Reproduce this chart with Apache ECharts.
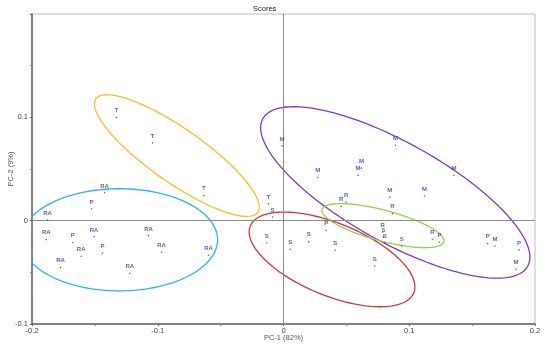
<!DOCTYPE html>
<html><head><meta charset="utf-8">
<script src="https://cdn.jsdelivr.net/npm/echarts@6/dist/echarts.min.js"></script>
<style>html,body{margin:0;padding:0;background:#fff}#c{width:550px;height:345px}</style>
</head><body><div id="c"></div>
<script>
// sample labels and PCA scores
const pointLabels = ['T','T','T','T',
  'RA','RA','RA','RA','RA','RA','RA','RA','RA','RA',
  'P','P','P','P','P','P','P',
  'S','S','S','S','S','S','S','S','S',
  'M','M','M','M','M','M','M','M','M','M',
  'R','R','R','R','R'];
const pc1 = [-0.1328,-0.1041,-0.0634,-0.0119,
  -0.1423,-0.1876,-0.1887,-0.1506,-0.1609,-0.1773,-0.1073,-0.0970,-0.1222,-0.0596,
  -0.1526,-0.1675,-0.1439,0.0339,0.1240,0.1624,0.1873,
  -0.0087,-0.0133,0.0053,0.0201,0.0411,0.0726,0.0795,0.0805,0.0940,
  -0.0011,0.0890,0.0620,0.0593,0.0273,0.1356,0.0845,0.1121,0.1682,0.1849,
  0.0458,0.0498,0.0866,0.0789,0.1184];
const pc2 = [0.1000,0.0753,0.0244,0.0164,
  0.0270,0.0006,-0.0183,-0.0155,-0.0345,-0.0454,-0.0145,-0.0306,-0.0509,-0.0335,
  0.0116,-0.0212,-0.0316,-0.0094,-0.0209,-0.0222,-0.0283,
  0.0035,-0.0216,-0.0277,-0.0203,-0.0287,-0.0438,-0.0158,-0.0216,-0.0245,
  0.0724,0.0730,0.0508,0.0440,0.0418,0.0440,0.0228,0.0238,-0.0245,-0.0470,
  0.0138,0.0180,0.0068,-0.0110,-0.0180];

// group ellipses: centre and two conjugate semi-axis vectors (data units)
const ellipseGroups = ['RA','T','M','S','R'];
const ellipseCx = [-0.1305,-0.0848,0.0889,0.0386,0.0791];
const ellipseCy = [-0.0185,0.0630,0.0273,-0.0375,-0.0048];
const ellipseAxisA = [[0.0781,0],[0.0644,-0.0549],[0.1053,-0.0715],[0.0650,-0.0324],[0.04855,-0.01568]];
const ellipseAxisB = [[0,0.0494],[-0.01234,-0.02132],[-0.0194,-0.0421],[-0.01095,-0.0324],[-0.00315,-0.01437]];
const ellipseColors = ['#29b4ef','#f7bd2a','#7d3fb4','#c9383d','#93d151'];

const xTicks = [-0.2,-0.1,0,0.1,0.2];

const scatterData = pointLabels.map((l,i)=>[pc1[i],pc2[i],l]);

const series = [];
ellipseGroups.forEach((g,k)=>{
  const pts=[];
  const N=180;
  for(let i=0;i<=N;i++){
    const t=2*Math.PI*i/N;
    pts.push([ellipseCx[k]+Math.cos(t)*ellipseAxisA[k][0]+Math.sin(t)*ellipseAxisB[k][0],
              ellipseCy[k]+Math.cos(t)*ellipseAxisA[k][1]+Math.sin(t)*ellipseAxisB[k][1]]);
  }
  series.push({type:'line',name:g,data:pts,showSymbol:false,symbol:'none',silent:true,
    lineStyle:{color:ellipseColors[k],width:1.3},z:3,animation:false});
});
series.push({type:'scatter',data:scatterData,symbolSize:1.6,
  itemStyle:{color:'#444'},z:5,animation:false,
  label:{show:true,position:'top',distance:3,formatter:p=>p.value[2],
    color:'#3434a6',fontSize:6,fontWeight:'bold',fontFamily:'Liberation Sans'},
  markLine:{silent:true,symbol:'none',label:{show:false},animation:false,
    lineStyle:{color:'#8c8c8c',type:'solid',width:1},
    data:[{xAxis:0},{yAxis:0}]}
});

const chart = echarts.init(document.getElementById('c'),null,{renderer:'canvas'});
chart.setOption({
  animation:false,
  backgroundColor:'#fff',
  title:{text:'Scores',left:248,top:0,textStyle:{fontSize:7.5,fontWeight:'normal',color:'#222',fontFamily:'Liberation Sans'}},
  grid:{left:32,right:15,top:14,bottom:21,show:true,borderColor:'#bdbdbd',borderWidth:1,containLabel:false,outerBoundsMode:'none'},
  xAxis:{type:'value',min:xTicks[0],max:xTicks[xTicks.length-1],interval:0.1,
    name:'PC-1 (82%)',nameLocation:'middle',nameGap:10,nameMoveOverlap:false,
    nameTextStyle:{fontSize:7.5,color:'#555',fontFamily:'Liberation Sans'},
    axisLine:{show:true,onZero:false,lineStyle:{color:'#666',width:1.5}},
    axisTick:{show:true,length:2,lineStyle:{color:'#666'}},
    minorTick:{show:true,splitNumber:2,length:2,lineStyle:{color:'#888'}},
    splitLine:{show:false},
    axisLabel:{fontSize:7.5,color:'#444',margin:3,fontFamily:'Liberation Sans',formatter:v=>String(Math.round(v*10)/10)}},
  yAxis:{type:'value',min:-0.1,max:0.2,interval:0.1,
    name:'PC-2 (9%)',nameLocation:'middle',nameGap:17,nameMoveOverlap:false,
    nameTextStyle:{fontSize:7.5,color:'#555',fontFamily:'Liberation Sans'},
    axisLine:{show:true,onZero:false,lineStyle:{color:'#666',width:1.5}},
    axisTick:{show:true,length:2,lineStyle:{color:'#666'}},
    minorTick:{show:true,splitNumber:2,length:2,lineStyle:{color:'#888'}},
    splitLine:{show:false},
    axisLabel:{fontSize:7.5,color:'#444',margin:4,showMaxLabel:false,fontFamily:'Liberation Sans',formatter:v=>String(Math.round(v*10)/10)}},
  series:series
});
</script>
</body></html>
